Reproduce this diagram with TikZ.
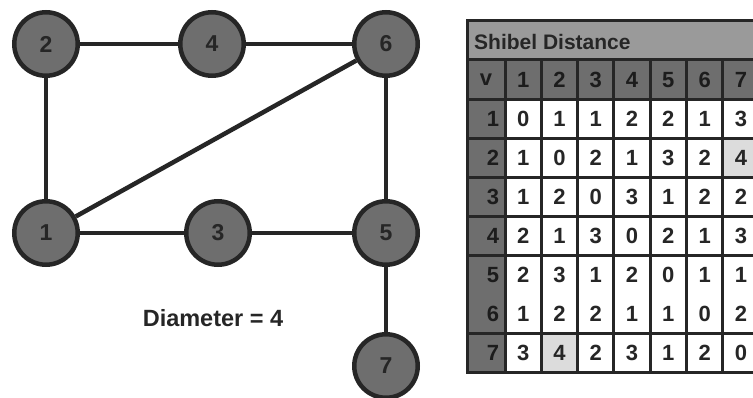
\documentclass[tikz,border=0pt]{standalone}
\usepackage{fontspec}
\setmainfont{Liberation Sans}
\definecolor{nodefill}{HTML}{6E6E6E}
\definecolor{ink}{HTML}{262626}
\definecolor{hdrink}{HTML}{1C1C1C}
\definecolor{titlefill}{HTML}{9A9A9A}
\definecolor{hdrfill}{HTML}{6E6E6E}
\definecolor{hl}{HTML}{DCDCDC}
\begin{document}
\begin{tikzpicture}[x=1pt,y=-1pt,
  vtx/.style={circle,draw=ink,line width=4.5pt,fill=nodefill,minimum size=63.5pt,inner sep=0pt,
    font=\fontsize{23}{26}\selectfont\bfseries,text=ink},
  edge/.style={draw=ink,line width=4.5pt},
  celltext/.style={inner sep=0pt,font=\fontsize{22}{26}\selectfont\bfseries,text=ink},
  hdrtext/.style={celltext,text=hdrink},
  titletext/.style={inner sep=0pt,font=\fontsize{21}{25}\selectfont\bfseries,text=ink},
  grid/.style={draw=ink,line width=3pt},
  label/.style={inner sep=0pt,font=\fontsize{23.5}{27}\selectfont\bfseries,text=ink}]
\useasboundingbox (0,0) rectangle (753,398);
\clip (0,0) rectangle (753,398);
% graph
\node[vtx] (n2) at (46,44) {2};
\node[vtx] (n4) at (212,44) {4};
\node[vtx] (n6) at (386,44) {6};
\node[vtx] (n1) at (46,233) {1};
\node[vtx] (n3) at (218,233) {3};
\node[vtx] (n5) at (386,233) {5};
\node[vtx] (n7) at (386,366) {7};
\draw[edge] (n2) -- (n4);
\draw[edge] (n4) -- (n6);
\draw[edge] (n2) -- (n1);
\draw[edge] (n6) -- (n1);
\draw[edge] (n6) -- (n5);
\draw[edge] (n1) -- (n3);
\draw[edge] (n3) -- (n5);
\draw[edge] (n5) -- (n7);
\node[label] (diam) at (213,318) {Diameter = 4};
% table fills
\fill[titlefill] (467,21) rectangle (762,60);
\fill[hdrfill] (467,60) rectangle (762,99.1);
\fill[hdrfill] (467,99.1) rectangle (505,372.8);
\fill[white] (505,99.1) rectangle (762,372.8);
\fill[hl] (722.8,138.2) rectangle (759.1,177.3);
\fill[hl] (541.3,333.7) rectangle (577.6,372.8);
% grid
\draw[grid] (467,21) rectangle (759.1,372.8);
\foreach \yy in {60,99.1,138.2,177.3,216.4,255.5,333.7}
  \draw[grid] (467,\yy) -- (759.1,\yy);
\foreach \xx in {505,541.3,577.6,613.9,650.2,686.5,722.8}
  \draw[grid] (\xx,60) -- (\xx,372.8);
% title
\node[titletext,anchor=west] (title) at (474,42) {Shibel Distance};
% header
\node[hdrtext] (h0) at (486,80) {v};
\foreach \c in {1,...,7}
  \node[hdrtext] (h\c) at ({505+36.3*(\c-0.5)},80) {\c};
% rows
\foreach \r/\row in {1/{0,1,1,2,2,1,3},2/{1,0,2,1,3,2,4},3/{1,2,0,3,1,2,2},4/{2,1,3,0,2,1,3},5/{2,3,1,2,0,1,1},6/{1,2,2,1,1,0,2},7/{3,4,2,3,1,2,0}}{
  \node[hdrtext] (r\r) at (493,{60+39.1*(\r+0.5)}) {\r};
  \foreach \v [count=\c] in \row
    \node[celltext] (c\r-\c) at ({505+36.3*(\c-0.5)},{60+39.1*(\r+0.5)}) {\v};
}
\end{tikzpicture}
\end{document}
